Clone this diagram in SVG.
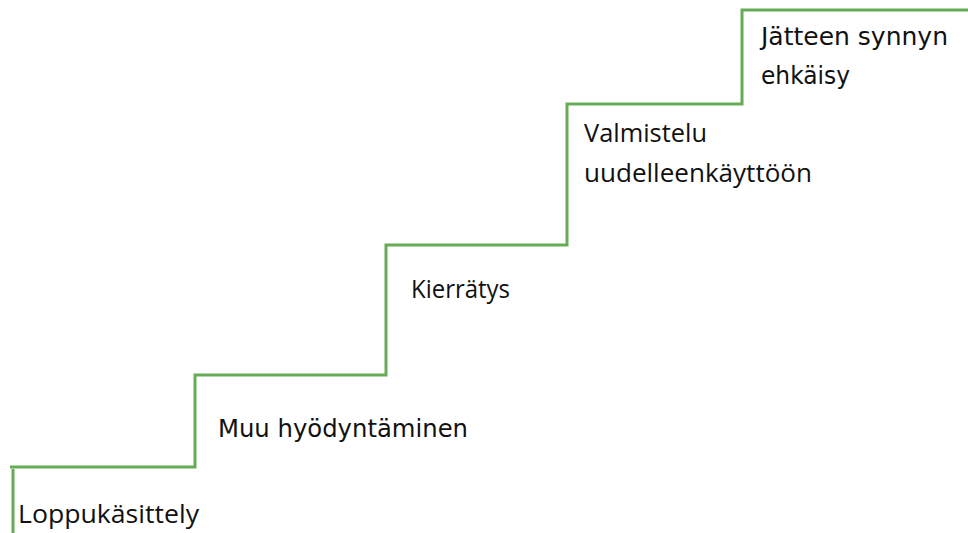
<svg xmlns="http://www.w3.org/2000/svg" width="968" height="533" viewBox="0 0 968 533">
  <style>
    .step { fill: none; stroke: #66ab55; stroke-width: 3; stroke-linejoin: miter; }
    .geo { font-family: "Open Sans", "Liberation Sans", sans-serif; font-size: 25px; fill: #111; }
    .ver { font-family: "DejaVu Sans", "Verdana", sans-serif; font-size: 24px; fill: #111; }
  </style>
  <rect width="968" height="533" fill="#ffffff"/>
  <g id="connectors">
    <path class="step" d="M10,467 H195 V375 H386 V245 H567 V104 H742 V10 H968"/>
    <path class="step" d="M13,469 V533"/>
  </g>
  <g id="step1">
    <text class="geo" x="18" y="523" textLength="181" lengthAdjust="spacingAndGlyphs">Loppukäsittely</text>
  </g>
  <g id="step2">
    <text class="ver" x="218" y="437" textLength="250" lengthAdjust="spacingAndGlyphs">Muu hyödyntäminen</text>
  </g>
  <g id="step3">
    <text class="geo" x="411" y="298" textLength="99" lengthAdjust="spacingAndGlyphs">Kierrätys</text>
  </g>
  <g id="step4">
    <text class="geo" x="584" y="142" textLength="123" lengthAdjust="spacingAndGlyphs">Valmistelu</text>
    <text class="geo" x="584" y="182" textLength="228" lengthAdjust="spacingAndGlyphs">uudelleenkäyttöön</text>
  </g>
  <g id="step5">
    <text class="ver" x="761" y="45" textLength="187" lengthAdjust="spacingAndGlyphs">Jätteen synnyn</text>
    <text class="ver" x="761" y="84" textLength="89" lengthAdjust="spacingAndGlyphs">ehkäisy</text>
  </g>
</svg>
